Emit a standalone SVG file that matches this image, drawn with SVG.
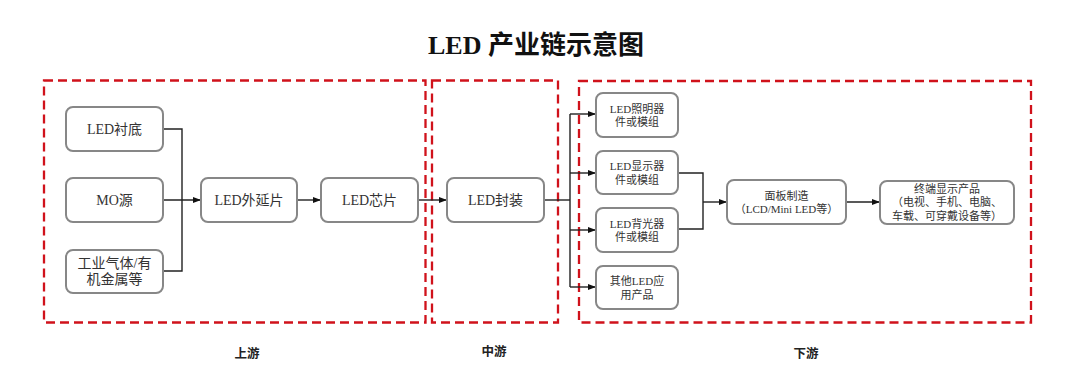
<svg xmlns="http://www.w3.org/2000/svg" width="1080" height="389" viewBox="0 0 1080 389">
<defs>
<marker id="arr" viewBox="0 0 8 6" refX="8" refY="3" markerWidth="8" markerHeight="6" markerUnits="userSpaceOnUse" orient="auto">
<path d="M0,0 L8,3 L0,6 Z" fill="#111"/>
</marker>
<style>
.zone{fill:none;stroke:#d0121b;stroke-width:2.3;stroke-dasharray:9 5}
.box{fill:#fff;stroke:#878787;stroke-width:2}
.t{font-family:"Liberation Serif","Noto Sans CJK SC",serif;fill:#333;text-anchor:middle;dominant-baseline:central}
.t14{font-size:14px}
.t11{font-size:11px}
.lbl{font-family:"Noto Sans CJK SC","Liberation Sans",sans-serif;font-size:12.5px;font-weight:bold;fill:#222;text-anchor:middle;dominant-baseline:central}
.ttl{font-family:"Liberation Serif","Noto Sans CJK SC",serif;font-size:26px;font-weight:bold;fill:#111;text-anchor:middle;dominant-baseline:central}
.ln{fill:none;stroke:#222;stroke-width:1.4}
</style>
</defs>
<rect width="1080" height="389" fill="#fff"/>
<text class="ttl" x="536" y="45">LED 产业链示意图</text>
<g id="zones">
<rect class="zone" x="44" y="80.5" width="381.5" height="242"/>
<rect class="zone" x="432" y="80.5" width="126" height="242"/>
<rect class="zone" x="579" y="81" width="452" height="241.5"/>
</g>
<g id="connectors">
<polyline class="ln" points="163,129 182,129 182,271 163,271"/>
<line class="ln" x1="163" y1="200" x2="201" y2="200" marker-end="url(#arr)"/>
<line class="ln" x1="297" y1="200" x2="321" y2="200" marker-end="url(#arr)"/>
<line class="ln" x1="418" y1="200" x2="447" y2="200" marker-end="url(#arr)"/>
<polyline class="ln" points="544,200 570,200"/>
<line class="ln" x1="570" y1="114" x2="570" y2="287"/>
<line class="ln" x1="570" y1="114" x2="596" y2="114" marker-end="url(#arr)"/>
<line class="ln" x1="570" y1="173" x2="596" y2="173" marker-end="url(#arr)"/>
<line class="ln" x1="570" y1="230" x2="596" y2="230" marker-end="url(#arr)"/>
<line class="ln" x1="570" y1="287" x2="596" y2="287" marker-end="url(#arr)"/>
<polyline class="ln" points="678,173 703,173 703,229 678,229"/>
<line class="ln" x1="703" y1="202" x2="727" y2="202" marker-end="url(#arr)"/>
<line class="ln" x1="846" y1="202" x2="880" y2="202" marker-end="url(#arr)"/>
</g>
<g id="n-substrate"><rect class="box" x="66" y="107" width="97" height="44" rx="7"/><text class="t t14" x="114.5" y="129">LED衬底</text></g>
<g id="n-mo"><rect class="box" x="66" y="178" width="97" height="44" rx="7"/><text class="t t14" x="114.5" y="200">MO源</text></g>
<g id="n-gas"><rect class="box" x="66" y="250" width="97" height="43" rx="7"/><text class="t t14" x="114.5" y="263.5">工业气体/有</text><text class="t t14" x="114.5" y="279.5">机金属等</text></g>
<g id="n-epi"><rect class="box" x="201" y="178" width="96" height="44" rx="7"/><text class="t t14" x="249" y="200">LED外延片</text></g>
<g id="n-chip"><rect class="box" x="321" y="178" width="97" height="44" rx="7"/><text class="t t14" x="369.5" y="200">LED芯片</text></g>
<g id="n-pack"><rect class="box" x="447" y="178" width="97" height="44" rx="7"/><text class="t t14" x="495.5" y="200">LED封装</text></g>
<g id="n-light"><rect class="box" x="596" y="93" width="82" height="44" rx="7"/><text class="t t11" x="637" y="108.5">LED照明器</text><text class="t t11" x="637" y="122">件或模组</text></g>
<g id="n-disp"><rect class="box" x="596" y="151" width="82" height="43" rx="7"/><text class="t t11" x="637" y="166">LED显示器</text><text class="t t11" x="637" y="179.5">件或模组</text></g>
<g id="n-back"><rect class="box" x="596" y="208" width="82" height="44" rx="7"/><text class="t t11" x="637" y="223.5">LED背光器</text><text class="t t11" x="637" y="237">件或模组</text></g>
<g id="n-other"><rect class="box" x="596" y="266" width="82" height="43" rx="7"/><text class="t t11" x="637" y="281">其他LED应</text><text class="t t11" x="637" y="294.5">用产品</text></g>
<g id="n-panel"><rect class="box" x="727" y="180" width="119" height="44" rx="7"/><text class="t t11" x="786.5" y="196">面板制造</text><text class="t t11" x="786.5" y="209">（LCD/Mini LED等）</text></g>
<g id="n-term"><rect class="box" x="880" y="181" width="134" height="43" rx="7"/><text class="t t11" x="947" y="188.5">终端显示产品</text><text class="t t11" x="947" y="202">（电视、手机、电脑、</text><text class="t t11" x="947" y="215.5">车载、可穿戴设备等）</text></g>
<g id="labels">
<text class="lbl" x="247" y="352">上游</text>
<text class="lbl" x="494" y="350">中游</text>
<text class="lbl" x="806" y="352">下游</text>
</g>
</svg>
